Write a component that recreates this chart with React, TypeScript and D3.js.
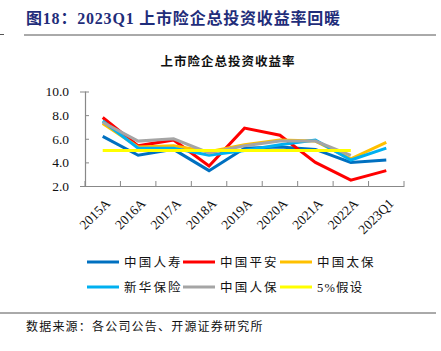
import React, {useRef, useEffect} from 'react';
import * as d3 from 'd3';

const categories = ['2015A', '2016A', '2017A', '2018A', '2019A', '2020A', '2021A', '2022A', '2023Q1'];
const chinaLife = [6.2, 4.6, 5.1, 3.3, 5.2, 5.3, 5.1, 4.0, 4.2];
const pingAn = [7.8, 5.4, 5.9, 3.7, 6.9, 6.3, 4.0, 2.5, 3.3];
const cpic = [7.3, 5.3, 5.4, 4.9, 5.5, 5.9, 5.8, 4.3, 5.7];
const newChina = [7.5, 5.2, 5.2, 4.6, 5.0, 5.5, 5.9, 4.2, 5.2];
const picc = [7.4, 5.8, 6.0, 4.8, 5.4, 5.8, 5.8, 4.6, null];
const assume5 = [5, 5, 5, 5, 5, 5, 5, 5, null];
const yTicks = [2, 4, 6, 8, 10];

const series = [
    {name: '中国人寿', color: '#0070C0', values: chinaLife},
    {name: '中国平安', color: '#FF0000', values: pingAn},
    {name: '中国太保', color: '#FFC000', values: cpic},
    {name: '新华保险', color: '#00B0F0', values: newChina},
    {name: '中国人保', color: '#A5A5A5', values: picc},
    {name: '5%假设', color: '#FFFF00', values: assume5},
];

const serif = '"Liberation Serif", "Noto Sans CJK SC", serif';
const cjk = '"Noto Sans CJK SC", sans-serif';

const App: React.FC = () => {
    const ref = useRef<SVGSVGElement | null>(null);

    useEffect(() => {
        const svg = d3.select(ref.current);
        svg.selectAll('*').remove();

        // header
        svg.append('text')
            .attr('x', 26).attr('y', 24)
            .attr('fill', '#1F2D7A')
            .attr('font-family', serif)
            .attr('font-weight', 'bold')
            .attr('font-size', 16)
            .attr('letter-spacing', 0.8)
            .text('图18：2023Q1 上市险企总投资收益率回暖');
        svg.append('line').attr('x1', 24).attr('x2', 436).attr('y1', 35).attr('y2', 35)
            .attr('stroke', '#555').attr('stroke-width', 1);
        svg.append('line').attr('x1', 0).attr('x2', 4).attr('y1', 34.5).attr('y2', 34.5)
            .attr('stroke', '#555').attr('stroke-width', 1);

        svg.append('text')
            .attr('x', 228).attr('y', 66)
            .attr('text-anchor', 'middle')
            .attr('font-family', cjk)
            .attr('font-weight', 'bold')
            .attr('font-size', 12.5)
            .attr('letter-spacing', 1)
            .attr('fill', '#111')
            .text('上市险企总投资收益率');

        const x = d3.scaleBand<string>().domain(categories).range([85, 404]);
        const y = d3.scaleLinear().domain([2, 10]).range([186, 91.5]);

        const g = svg.append('g');

        // y axis
        const yAxis = g.append('g').attr('transform', 'translate(85,0)')
            .call(d3.axisLeft(y).tickValues(yTicks).tickSize(5).tickFormat(d => d3.format('.1f')(d as number)));
        yAxis.select('.domain').attr('stroke', '#888').attr('stroke-width', 1.2);
        yAxis.selectAll('.tick line').attr('stroke', '#888').attr('x2', 4);
        yAxis.selectAll('text').attr('font-family', serif).attr('font-size', 13.5).attr('fill', '#111').attr('x', -16);

        // x axis
        const xAxis = g.append('g').attr('transform', 'translate(0,186)')
            .call(d3.axisBottom(x).tickSize(0).tickSizeOuter(0));
        xAxis.select('.domain').attr('stroke', '#888').attr('stroke-width', 1.2);
        xAxis.selectAll('.tick line').remove();
        const edges = [...categories.map(c => x(c) as number), 404];
        xAxis.selectAll('.edge').data(edges).enter().append('line')
            .attr('x1', d => d).attr('x2', d => d).attr('y1', 0).attr('y2', -5)
            .attr('stroke', '#888').attr('stroke-width', 1);
        xAxis.selectAll('.tick text')
            .attr('font-family', serif).attr('font-size', 13.5).attr('fill', '#111')
            .attr('text-anchor', 'end')
            .attr('dy', '0.35em')
            .attr('transform', 'translate(5,15) rotate(-45)')
            .attr('y', 0).attr('x', 0);

        const line = d3.line<number | null>()
            .defined(d => d !== null)
            .x((_, i) => (x(categories[i]) as number) + x.bandwidth() / 2)
            .y(d => y(d as number));

        const order = [0, 1, 2, 3, 4, 5];
        order.forEach(i => {
            const s = series[i];
            g.append('path')
                .datum(s.values)
                .attr('d', line)
                .attr('fill', 'none')
                .attr('stroke', s.color)
                .attr('stroke-width', 3);
        });

        // legend
        const cols = [87, 183, 280];
        const rows = [262, 287];
        series.forEach((s, i) => {
            const lx = cols[i % 3];
            const ly = rows[Math.floor(i / 3)];
            svg.append('line').attr('x1', lx).attr('x2', lx + 32).attr('y1', ly).attr('y2', ly)
                .attr('stroke', s.color).attr('stroke-width', 3);
            svg.append('text').attr('x', lx + 37).attr('y', ly + 4.5)
                .attr('font-family', serif).attr('font-size', 12.5)
                .attr('letter-spacing', i === 5 ? 1.2 : 2.2)
                .attr('fill', '#111')
                .text(s.name);
        });

        // footer
        svg.append('line').attr('x1', 0).attr('x2', 436).attr('y1', 313).attr('y2', 313)
            .attr('stroke', '#555').attr('stroke-width', 1);
        svg.append('text').attr('x', 26).attr('y', 331)
            .attr('font-family', cjk).attr('font-size', 12)
            .attr('letter-spacing', 1.2)
            .attr('fill', '#111')
            .text('数据来源：各公司公告、开源证券研究所');
    }, []);

    return (
        <svg ref={ref} width={441} height={351}
             style={{position: 'absolute', left: 0, top: 0, background: '#fff'}}/>
    );
};

export default App;
